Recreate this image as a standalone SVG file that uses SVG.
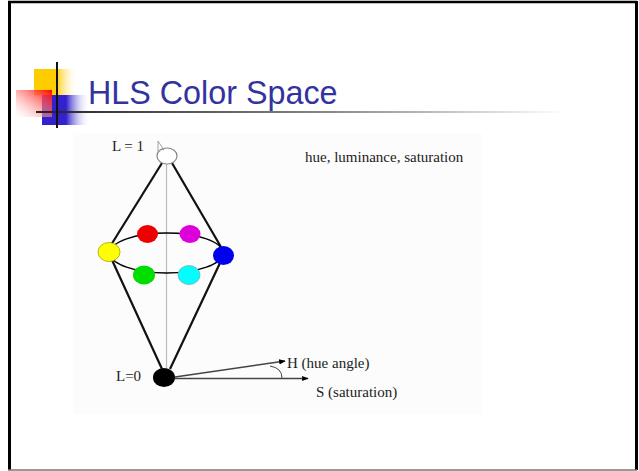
<svg xmlns="http://www.w3.org/2000/svg" width="639" height="471" viewBox="0 0 639 471">
<defs>
<linearGradient id="gy" x1="0" y1="0" x2="1" y2="0"><stop offset="0.5" stop-color="#ffcc00"/><stop offset="1" stop-color="#ffffff" stop-opacity="0"/></linearGradient>
<linearGradient id="gr" x1="1" y1="0" x2="0" y2="1"><stop offset="0" stop-color="#ff0000"/><stop offset="1" stop-color="#ffffff" stop-opacity="0.3"/></linearGradient>
<linearGradient id="gb" x1="0" y1="0" x2="1" y2="0"><stop offset="0.5" stop-color="#3322cc"/><stop offset="1" stop-color="#ffffff" stop-opacity="0"/></linearGradient>
<linearGradient id="gl" x1="0" y1="0" x2="1" y2="0"><stop offset="0" stop-color="#222222"/><stop offset="0.55" stop-color="#888888"/><stop offset="1" stop-color="#ffffff"/></linearGradient>
<marker id="ah" viewBox="0 0 10 10" refX="9" refY="5" markerWidth="5" markerHeight="5" orient="auto"><path d="M0,1 L10,5 L0,9 z" fill="#000"/></marker>
<style>
.t{font-family:"Liberation Serif","Times New Roman",serif;fill:#222;font-size:15px}
.ring{stroke:#000;stroke-width:1.5;fill:none}
.cone{stroke:#111;stroke-width:2.2;fill:none}
</style>
</defs>
<rect width="639" height="471" fill="#fff"/>
<g id="frame">
<line x1="8" y1="2" x2="637" y2="2" stroke="#000" stroke-width="2.5"/>
<line x1="9.5" y1="1" x2="9.5" y2="470" stroke="#000" stroke-width="3"/>
<line x1="636.5" y1="1" x2="636.5" y2="470" stroke="#000" stroke-width="3"/>
<line x1="8" y1="470" x2="637" y2="470" stroke="#777" stroke-width="1.5"/>
</g>
<g id="title-decor">
<rect x="34" y="69" width="44" height="26" fill="url(#gy)"/>
<rect x="42" y="95" width="48" height="30" fill="url(#gb)"/>
<rect x="16" y="90" width="36" height="27" fill="url(#gr)"/>
<rect x="36" y="111" width="530" height="2" fill="url(#gl)"/>
<rect x="56" y="62" width="2" height="66" fill="#111"/>
</g>
<text id="title" x="88" y="104" font-family="Liberation Sans, Arial, sans-serif" font-size="32.3" fill="#3333a0">HLS Color Space</text>
<rect id="picture" x="73" y="133" width="409" height="281" fill="#fcfcfc"/>
<g id="connectors">
<line x1="166.5" y1="164" x2="166.5" y2="377" stroke="#bbb" stroke-width="1.2"/>
<line class="cone" x1="162" y1="163" x2="111" y2="245"/>
<line class="cone" x1="172" y1="163" x2="221" y2="247"/>
<line class="cone" x1="112" y1="260" x2="162" y2="369"/>
<line class="cone" x1="220" y1="263" x2="170" y2="369"/>
<ellipse class="ring" cx="166.5" cy="253" rx="56.5" ry="20"/>
<line x1="175" y1="377" x2="285" y2="361" stroke="#444" stroke-width="1.3" marker-end="url(#ah)"/>
<line x1="175" y1="378.5" x2="308" y2="378.5" stroke="#444" stroke-width="1.3" marker-end="url(#ah)"/>
<path d="M270,366 Q282,368 282,378" stroke="#444" stroke-width="1" fill="none"/>
</g>
<g id="white-node">
<ellipse cx="167" cy="156" rx="10" ry="8" fill="#fff" stroke="#888" stroke-width="1.2"/>
<path d="M158,141 L158,152 L161,149 L164,150 Z" fill="none" stroke="#999" stroke-width="0.9"/>
<text class="t" x="112" y="151">L = 1</text>
</g>
<g id="red-node"><ellipse cx="147.5" cy="234" rx="10.5" ry="9" fill="#ee0000"/></g>
<g id="magenta-node"><ellipse cx="190" cy="234" rx="10.5" ry="9" fill="#dd00dd"/></g>
<g id="yellow-node"><ellipse cx="109" cy="252" rx="11" ry="9.5" fill="#ffff00" stroke="#aaa000" stroke-width="0.8"/></g>
<g id="blue-node"><ellipse cx="223.5" cy="255.5" rx="10.5" ry="9.5" fill="#0000ee"/></g>
<g id="green-node"><ellipse cx="144" cy="275" rx="11" ry="9.5" fill="#00dd00"/></g>
<g id="cyan-node"><ellipse cx="189" cy="275" rx="11" ry="9.5" fill="#00ffff" stroke="#88aaaa" stroke-width="0.8"/></g>
<g id="black-node">
<ellipse cx="164" cy="377.5" rx="11" ry="9.5" fill="#000"/>
<text class="t" x="116" y="381">L=0</text>
</g>
<g id="labels">
<text class="t" x="287" y="368">H (hue angle)</text>
<text class="t" x="316" y="397">S (saturation)</text>
<text class="t" x="305" y="162">hue, luminance, saturation</text>
</g>
</svg>
